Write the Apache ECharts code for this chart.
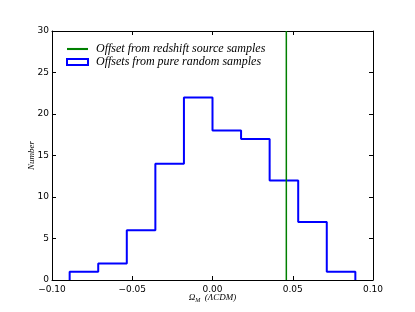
<!DOCTYPE html>
<html><head><meta charset="utf-8">
<script src="https://cdn.jsdelivr.net/npm/echarts@6/dist/echarts.min.js"></script>
<style>html,body{margin:0;padding:0;background:#fff}#c{width:415px;height:312px}</style>
</head><body><div id="c"></div>
<script>
const binEdges = [-0.089, -0.0712, -0.0534, -0.0356, -0.0178, 0.0, 0.0178, 0.0356, 0.0534, 0.0712, 0.089];
const counts = [1, 2, 6, 14, 22, 18, 17, 12, 7, 1];
const offsetValue = 0.046;
const xTicks = [-0.10, -0.05, 0.00, 0.05, 0.10];
const yTicks = [0, 5, 10, 15, 20, 25, 30];
const seriesNames = ['Offset from redshift source samples', 'Offsets from pure random samples'];

const stepPts = [[binEdges[0], 0]];
for (let i = 0; i < counts.length; i++) {
  stepPts.push([binEdges[i], counts[i]]);
  stepPts.push([binEdges[i + 1], counts[i]]);
}
stepPts.push([binEdges[binEdges.length - 1], 0]);

const chart = echarts.init(document.getElementById('c'), null, {renderer: 'canvas'});
const tickFont = {fontFamily: 'DejaVu Sans', fontSize: 9, color: '#000'};
const axisCommon = {
  axisLine: {show: true, onZero: false, lineStyle: {color: '#000', width: 1}},
  axisTick: {show: true, inside: true, length: 4, lineStyle: {color: '#000'}},
  splitLine: {show: false}
};
chart.setOption({
  animation: false,
  grid: {left: 52, top: 31, width: 321, height: 249},
  legend: {
    left: 61, top: 38, orient: 'vertical', itemGap: 1, itemWidth: 21, itemHeight: 6,
    textStyle: {fontFamily: 'Liberation Serif', fontStyle: 'italic', fontSize: 12, color: '#000', padding: [0, 0, 0, 3]},
    data: [
      {name: seriesNames[0], icon: 'path://M0,0H20V2H0Z', itemStyle: {color: '#008000'}},
      {name: seriesNames[1], icon: 'rect', itemStyle: {color: 'rgba(0,0,0,0)', borderColor: '#0000ff', borderWidth: 2}}
    ]
  },
  xAxis: [{
    type: 'value', min: -0.1, max: 0.1, interval: 0.05, position: 'bottom',
    ...axisCommon,
    axisLabel: {...tickFont, margin: 5, formatter: v => (v < 0 ? '\u2212' : '') + Math.abs(v).toFixed(2)},
    name: '{i|Ω}{s|M}{i|  (ΛCDM)}', nameLocation: 'middle', nameGap: 13, nameMoveOverlap: false,
    nameTextStyle: {rich: {
      i: {fontFamily: 'Liberation Serif', fontStyle: 'italic', fontSize: 9, color: '#000'},
      s: {fontFamily: 'Liberation Serif', fontStyle: 'italic', fontSize: 6, color: '#000', verticalAlign: 'bottom', padding: [4, 0, 0, 0]}
    }}
  }, {
    type: 'value', min: -0.1, max: 0.1, interval: 0.05, position: 'top',
    ...axisCommon, axisLabel: {show: false}
  }],
  yAxis: [{
    type: 'value', min: 0, max: 30, interval: 5, position: 'left',
    ...axisCommon,
    axisLabel: {...tickFont, margin: 3},
    name: 'Number', nameLocation: 'middle', nameGap: 16, nameRotate: 90, nameMoveOverlap: false,
    nameTextStyle: {fontFamily: 'Liberation Serif', fontStyle: 'italic', fontSize: 9, color: '#000'}
  }, {
    type: 'value', min: 0, max: 30, interval: 5, position: 'right',
    ...axisCommon, axisLabel: {show: false}
  }],
  series: [{
    name: seriesNames[0], type: 'line', xAxisIndex: 0, yAxisIndex: 0,
    data: [[offsetValue, 0], [offsetValue, 30]], showSymbol: false, symbol: 'none',
    lineStyle: {color: '#008000', width: 1.5}, itemStyle: {color: '#008000'}, z: 3
  }, {
    name: seriesNames[1], type: 'line', xAxisIndex: 0, yAxisIndex: 0,
    data: stepPts, showSymbol: false, symbol: 'none',
    lineStyle: {color: '#0000ff', width: 2}, itemStyle: {color: '#0000ff'}, z: 2
  }]
});
</script></body></html>
